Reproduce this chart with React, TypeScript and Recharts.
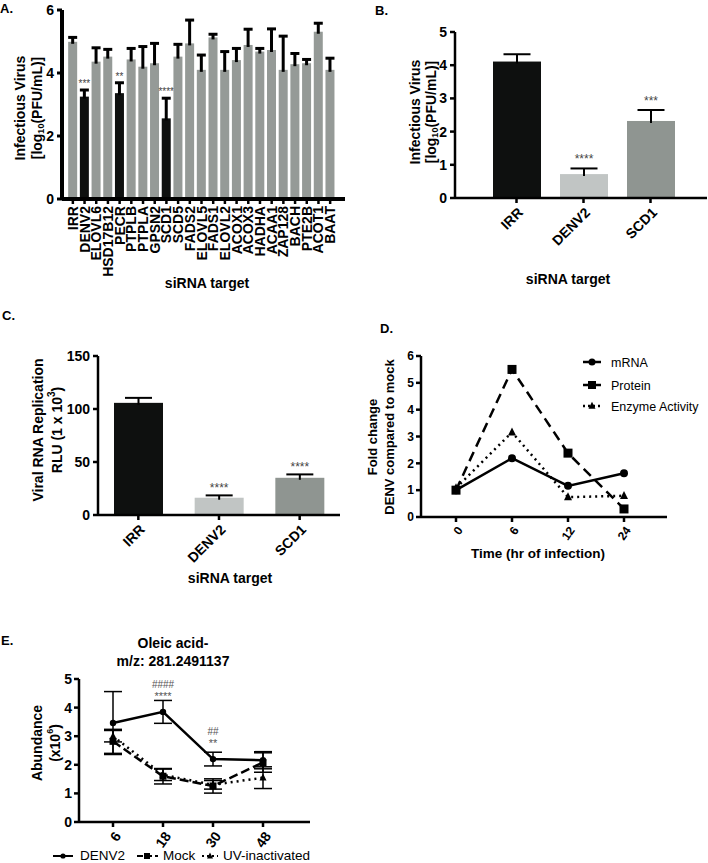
import React from 'react';
import { BarChart, Bar, Cell, LineChart, Line, XAxis, YAxis, ErrorBar, LabelList } from 'recharts';

const FONT = '"Liberation Sans", Arial, Helvetica, sans-serif';
const BLACK = '#0e100f';
const GREY = '#959a97';
const LIGHT = '#c1c5c4';
const MID = '#8f9591';

// A: siRNA screen
const aTargets = ['IRR', 'DENV2', 'ELOVL6', 'HSD17B12', 'PECR', 'PTPLB', 'PTPLA', 'GPSN2', 'SCD1', 'SCD5', 'FADS2', 'ELOVL5', 'FADS1', 'ELOVL2', 'ACOX1', 'ACOX3', 'HADHA', 'ACAA1', 'ZAP128', 'BACH', 'PTE2B', 'ACOT1', 'BAAT'];
const aMeans = [4.99, 3.25, 4.36, 4.52, 3.36, 4.43, 4.2, 4.31, 2.56, 4.52, 4.94, 4.1, 5.13, 4.1, 4.41, 4.89, 4.68, 4.73, 4.1, 4.28, 4.31, 5.31, 4.1];
const aErrors = [0.14, 0.21, 0.44, 0.23, 0.33, 0.35, 0.64, 0.63, 0.64, 0.39, 0.74, 0.47, 0.1, 0.58, 0.37, 0.5, 0.1, 0.67, 1.07, 0.34, 0.12, 0.27, 0.37];
const aSig = ['', '***', '', '', '**', '', '', '', '****', '', '', '', '', '', '', '', '', '', '', '', '', '', ''];
const aHits = ['DENV2', 'PECR', 'SCD1'];
const aTicks = [0, 2, 4, 6];

// B: infectious virus
const bTargets = ['IRR', 'DENV2', 'SCD1'];
const bMeans = [4.11, 0.72, 2.32];
const bErrors = [0.22, 0.17, 0.33];
const bSig = ['', '****', '***'];
const bTicks = [0, 1, 2, 3, 4, 5];

// C: replicon
const cTargets = ['IRR', 'DENV2', 'SCD1'];
const cMeans = [105.8, 16.3, 35.1];
const cErrors = [4.7, 2.2, 3.2];
const cSig = ['', '****', '****'];
const cTicks = [0, 50, 100, 150];

const bcColors = [BLACK, LIGHT, MID];

// D: SCD1 fold change
const dTimes = ['0', '6', '12', '24'];
const dMrna = [1.0, 2.19, 1.16, 1.63];
const dProtein = [1.0, 5.5, 2.38, 0.3];
const dEnzyme = [1.08, 3.16, 0.74, 0.79];
const dTicks = [0, 1, 2, 3, 4, 5, 6];

// E: oleic acid abundance
const eTimes = ['6', '18', '30', '48'];
const eDenv = [3.46, 3.85, 2.2, 2.16];
const eDenvErr = [1.1, 0.4, 0.24, 0.3];
const eMock = [2.82, 1.6, 1.26, 2.08];
const eMockErr = [0.42, 0.27, 0.25, 0.34];
const eUv = [3.0, 1.65, 1.3, 1.55];
const eUvErr = [0.2, 0.2, 0.15, 0.38];
const eStars = ['', '****', '**', ''];
const eHash = ['', '####', '##', ''];
const eTicks = [0, 1, 2, 3, 4, 5];

const barData = (names: string[], means: number[], errs: number[], sig: string[]) =>
  names.map((name, i) => ({ name, value: means[i], err: errs[i], sig: sig[i] }));

const aData = barData(aTargets, aMeans, aErrors, aSig);
const bData = barData(bTargets, bMeans, bErrors, bSig);
const cData = barData(cTargets, cMeans, cErrors, cSig);
const dData = dTimes.map((t, i) => ({ t, mrna: dMrna[i], protein: dProtein[i], enzyme: dEnzyme[i] }));
const eData = eTimes.map((t, i) => ({
  t, denv: eDenv[i], denvErr: eDenvErr[i], mock: eMock[i], mockErr: eMockErr[i],
  uv: eUv[i], uvErr: eUvErr[i],
}));

// bar + one-sided error bar + significance stars, using the bar's own scale
function errShape(cap: number | null, lw: number, starSize: number, starGap: number) {
  return (props: any) => {
    const { x, y, width, height, payload, fill } = props;
    const ppu = payload.value > 0 ? height / payload.value : 0;
    const top = y - payload.err * ppu;
    const cx = x + width / 2;
    const cw = cap == null ? width : cap;
    return (
      <g>
        <rect x={x} y={y} width={width} height={height} fill={fill} />
        <line x1={cx} x2={cx} y1={y + 2} y2={top} stroke="#000" strokeWidth={lw} />
        <line x1={cx - cw / 2} x2={cx + cw / 2} y1={top} y2={top} stroke="#000" strokeWidth={lw} />
        {payload.sig ? (
          <text x={cx} y={top - starGap} textAnchor="middle" fontSize={starSize} fill="#444" fontFamily={FONT}>
            {payload.sig}
          </text>
        ) : null}
      </g>
    );
  };
}

const VertTick = (props: any) => {
  const { x, y, payload } = props;
  return (
    <text x={x} y={y} transform={`rotate(-90 ${x} ${y})`} textAnchor="end" dominantBaseline="central"
      fontSize={14} fontWeight="bold" fontFamily={FONT} fill="#000">
      {payload.value}
    </text>
  );
};

const angledTick = (angle: number, size: number) => (props: any) => {
  const { x, y, payload } = props;
  return (
    <text x={x} y={y} transform={`rotate(${angle} ${x} ${y})`} textAnchor="end" dy="0.75em"
      fontSize={size} fontWeight="bold" fontFamily={FONT} fill="#000">
      {payload.value}
    </text>
  );
};

function Marker({ kind, cx, cy, s }: any) {
  if (cx == null || cy == null) return null;
  if (kind === 'circle') return <circle cx={cx} cy={cy} r={s} fill="#000" />;
  if (kind === 'square') return <rect x={cx - s} y={cy - s} width={2 * s} height={2 * s} fill="#000" />;
  return <polygon points={`${cx},${cy - s * 1.2} ${cx - s},${cy + s * 0.8} ${cx + s},${cy + s * 0.8}`} fill="#000" />;
}

const dotOf = (kind: string, s: number) => (p: any) => <Marker key={`${kind}-${p.index}`} kind={kind} cx={p.cx} cy={p.cy} s={s} />;

const yTick = (size: number) => ({ fontSize: size, fontWeight: 'bold', fontFamily: FONT, fill: '#000' });

const EAnnot = (props: any) => {
  const { x, y, index } = props;
  if (!eStars[index]) return null;
  return (
    <g fontFamily={FONT} fill="#555" textAnchor="middle">
      <text x={x} y={y - 12} fontSize={11}>{eStars[index]}</text>
      <text x={x} y={y - 24} fontSize={10}>{eHash[index]}</text>
    </g>
  );
};

function VLabel({ x, y, children, size = 14 }: any) {
  return (
    <text transform={`translate(${x},${y}) rotate(-90)`} textAnchor="middle" dominantBaseline="central"
      fontSize={size} fontWeight="bold" fontFamily={FONT} fill="#000">
      {children}
    </text>
  );
}

function Overlay() {
  const bold = { fontWeight: 'bold', fontFamily: FONT, fill: '#000' } as any;
  const reg = { fontFamily: FONT, fill: '#000' } as any;
  return (
    <svg width={708} height={863} style={{ position: 'absolute', left: 0, top: 0, pointerEvents: 'none' }}>
      {/* panel letters */}
      <text x={0} y={13} fontSize={13} {...bold}>A.</text>
      <text x={375} y={15} fontSize={13} {...bold}>B.</text>
      <text x={2} y={320} fontSize={13} {...bold}>C.</text>
      <text x={380} y={333} fontSize={13} {...bold}>D.</text>
      <text x={1} y={645} fontSize={13} {...bold}>E.</text>

      {/* A */}
      <VLabel x={20} y={108}>Infectious Virus</VLabel>
      <VLabel x={37} y={108}>[log<tspan fontSize={9} dy={4}>10</tspan><tspan dy={-4}>(PFU/mL)]</tspan></VLabel>
      <text x={207} y={288} fontSize={14} textAnchor="middle" {...bold}>siRNA target</text>

      {/* B */}
      <VLabel x={415} y={112}>Infectious Virus</VLabel>
      <VLabel x={431} y={112}>[log<tspan fontSize={9} dy={4}>10</tspan><tspan dy={-4}>(PFU/mL)]</tspan></VLabel>
      <text x={568} y={284} fontSize={14} textAnchor="middle" {...bold}>siRNA target</text>

      {/* C */}
      <VLabel x={38} y={430}>Viral RNA Replication</VLabel>
      <VLabel x={57} y={430}>RLU (1 x 10<tspan fontSize={10} dy={-6}>3</tspan><tspan dy={6}>)</tspan></VLabel>
      <text x={230} y={583} fontSize={14} textAnchor="middle" {...bold}>siRNA target</text>

      {/* D */}
      <VLabel x={372} y={437} size={13}>Fold change</VLabel>
      <VLabel x={389} y={437} size={13}>DENV compared to mock</VLabel>
      <text x={538} y={558} fontSize={13.5} textAnchor="middle" {...bold}>Time (hr of infection)</text>
      <g>
        <line x1={583} x2={601} y1={362} y2={362} stroke="#000" strokeWidth={2.5} />
        <Marker kind="circle" cx={592} cy={362} s={3.5} />
        <text x={611} y={366.5} fontSize={12.5} {...reg}>mRNA</text>
        <line x1={583} x2={601} y1={385} y2={385} stroke="#000" strokeWidth={2.5} />
        <Marker kind="square" cx={592} cy={385} s={4} />
        <text x={611} y={389.5} fontSize={12.5} {...reg}>Protein</text>
        <line x1={583} x2={601} y1={406} y2={406} stroke="#000" strokeWidth={2.5} strokeDasharray="2 3" />
        <Marker kind="triangle" cx={592} cy={406} s={3.5} />
        <text x={611} y={410.5} fontSize={12.5} {...reg}>Enzyme Activity</text>
      </g>

      {/* E */}
      <text x={173} y={648} fontSize={14} textAnchor="middle" {...bold}>Oleic acid-</text>
      <text x={173} y={666} fontSize={14} textAnchor="middle" {...bold}>m/z: 281.2491137</text>
      <VLabel x={37} y={743}>Abundance</VLabel>
      <VLabel x={55} y={743}>(x10<tspan fontSize={9} dy={-5}>6</tspan><tspan dy={5}>)</tspan></VLabel>
      <g>
        <line x1={53} x2={73} y1={856} y2={856} stroke="#000" strokeWidth={2} />
        <Marker kind="circle" cx={63} cy={856} s={2.6} />
        <text x={80} y={860} fontSize={13.5} {...reg}>DENV2</text>
        <line x1={137} x2={158} y1={856} y2={856} stroke="#000" strokeWidth={2} strokeDasharray="6 3" />
        <Marker kind="square" cx={147} cy={856} s={3} />
        <text x={163} y={860} fontSize={13.5} {...reg}>Mock</text>
        <line x1={202} x2={218} y1={856} y2={856} stroke="#000" strokeWidth={2} strokeDasharray="2 3" />
        <Marker kind="triangle" cx={210} cy={856} s={3} />
        <text x={223} y={860} fontSize={13.5} {...reg}>UV-inactivated</text>
      </g>
    </svg>
  );
}

const ax = (w: number) => ({ stroke: '#000', strokeWidth: w });

export default function App() {
  return (
    <div style={{ position: 'absolute', left: 0, top: 0, width: 708, height: 863, background: '#fff', overflow: 'hidden' }}>
      {/* A */}
      <div style={{ position: 'absolute', left: 0, top: 0 }}>
        <BarChart width={350} height={300} data={aData} margin={{ top: 10, right: 5, left: 0, bottom: 0 }} barCategoryGap="10%">
          <XAxis dataKey="name" interval={0} height={101} tick={<VertTick />} tickSize={5} tickMargin={2}
            axisLine={ax(4)} tickLine={ax(2.5)} padding={{ left: 5, right: 9 }} />
          <YAxis width={62} domain={[0, 6]} ticks={aTicks} tickSize={5} tickMargin={3} tick={yTick(14)}
            axisLine={ax(4)} tickLine={ax(3)} />
          <Bar dataKey="value" isAnimationActive={false} shape={errShape(null, 3, 10, 3)}>
            {aData.map((d) => <Cell key={d.name} fill={aHits.includes(d.name) ? BLACK : GREY} />)}
          </Bar>
        </BarChart>
      </div>

      {/* B */}
      <div style={{ position: 'absolute', left: 360, top: 0 }}>
        <BarChart width={348} height={300} data={bData} margin={{ top: 32, right: 1, left: 0, bottom: 0 }}>
          <XAxis dataKey="name" interval={0} height={102} tick={angledTick(-45, 14)} tickSize={5} tickMargin={3}
            axisLine={ax(2.5)} tickLine={ax(2.5)} padding={{ left: 28, right: 23 }} />
          <YAxis width={95} domain={[0, 5]} ticks={bTicks} tickSize={5} tickMargin={3} tick={yTick(14)}
            axisLine={ax(2.5)} tickLine={ax(2.5)} />
          <Bar dataKey="value" barSize={48} isAnimationActive={false} shape={errShape(27, 2, 12, 5)}>
            {bData.map((d, i) => <Cell key={d.name} fill={bcColors[i]} />)}
          </Bar>
        </BarChart>
      </div>

      {/* C */}
      <div style={{ position: 'absolute', left: 0, top: 300 }}>
        <BarChart width={360} height={300} data={cData} margin={{ top: 56, right: 20, left: 0, bottom: 0 }}>
          <XAxis dataKey="name" interval={0} height={85} tick={angledTick(-45, 14)} tickSize={5} tickMargin={3}
            axisLine={ax(2.5)} tickLine={ax(2.5)} />
          <YAxis width={98} domain={[0, 150]} ticks={cTicks} tickSize={5} tickMargin={3} tick={yTick(14)}
            axisLine={ax(2.5)} tickLine={ax(2.5)} />
          <Bar dataKey="value" barSize={49} isAnimationActive={false} shape={errShape(27, 2, 12, 3)}>
            {cData.map((d, i) => <Cell key={d.name} fill={bcColors[i]} />)}
          </Bar>
        </BarChart>
      </div>

      {/* D */}
      <div style={{ position: 'absolute', left: 360, top: 300 }}>
        <LineChart width={348} height={300} data={dData} margin={{ top: 56, right: 41, left: 0, bottom: 0 }}>
          <XAxis dataKey="t" interval={0} height={83} tick={angledTick(-55, 12)} tickSize={5} tickMargin={3}
            axisLine={ax(2.5)} tickLine={ax(2.5)} padding={{ left: 35, right: 43 }} />
          <YAxis width={61} domain={[0, 6]} ticks={dTicks} tickSize={5} tickMargin={2} tick={yTick(12)}
            axisLine={ax(2.5)} tickLine={ax(2.5)} />
          <Line dataKey="mrna" stroke="#000" strokeWidth={2.5} isAnimationActive={false} dot={dotOf('circle', 4)} />
          <Line dataKey="protein" stroke="#000" strokeWidth={2.5} strokeDasharray="10 6" isAnimationActive={false} dot={dotOf('square', 4.5)} />
          <Line dataKey="enzyme" stroke="#000" strokeWidth={2.5} strokeDasharray="2 4" isAnimationActive={false} dot={dotOf('triangle', 4)} />
        </LineChart>
      </div>

      {/* E */}
      <div style={{ position: 'absolute', left: 0, top: 600 }}>
        <LineChart width={360} height={263} data={eData} margin={{ top: 79, right: 50, left: 0, bottom: 0 }}>
          <XAxis dataKey="t" interval={0} height={41} tick={angledTick(-55, 14)} tickSize={5} tickMargin={3}
            axisLine={ax(2.5)} tickLine={ax(2.5)} padding={{ left: 34, right: 47 }} />
          <YAxis width={79} domain={[0, 5]} ticks={eTicks} tickSize={5} tickMargin={2} tick={yTick(14)}
            axisLine={ax(2.5)} tickLine={ax(2.5)} />
          <Line dataKey="mock" stroke="#000" strokeWidth={2.5} strokeDasharray="9 4" isAnimationActive={false} dot={dotOf('square', 3.5)}>
            <ErrorBar dataKey="mockErr" width={9} stroke="#000" strokeWidth={1.5} direction="y" />
          </Line>
          <Line dataKey="uv" stroke="#000" strokeWidth={2.5} strokeDasharray="2 4" isAnimationActive={false} dot={dotOf('triangle', 3.5)}>
            <ErrorBar dataKey="uvErr" width={9} stroke="#000" strokeWidth={1.5} direction="y" />
          </Line>
          <Line dataKey="denv" stroke="#000" strokeWidth={2.5} isAnimationActive={false} dot={dotOf('circle', 3.2)}>
            <ErrorBar dataKey="denvErr" width={9} stroke="#000" strokeWidth={1.5} direction="y" />
            <LabelList dataKey="denv" content={<EAnnot />} />
          </Line>
        </LineChart>
      </div>

      <Overlay />
    </div>
  );
}
